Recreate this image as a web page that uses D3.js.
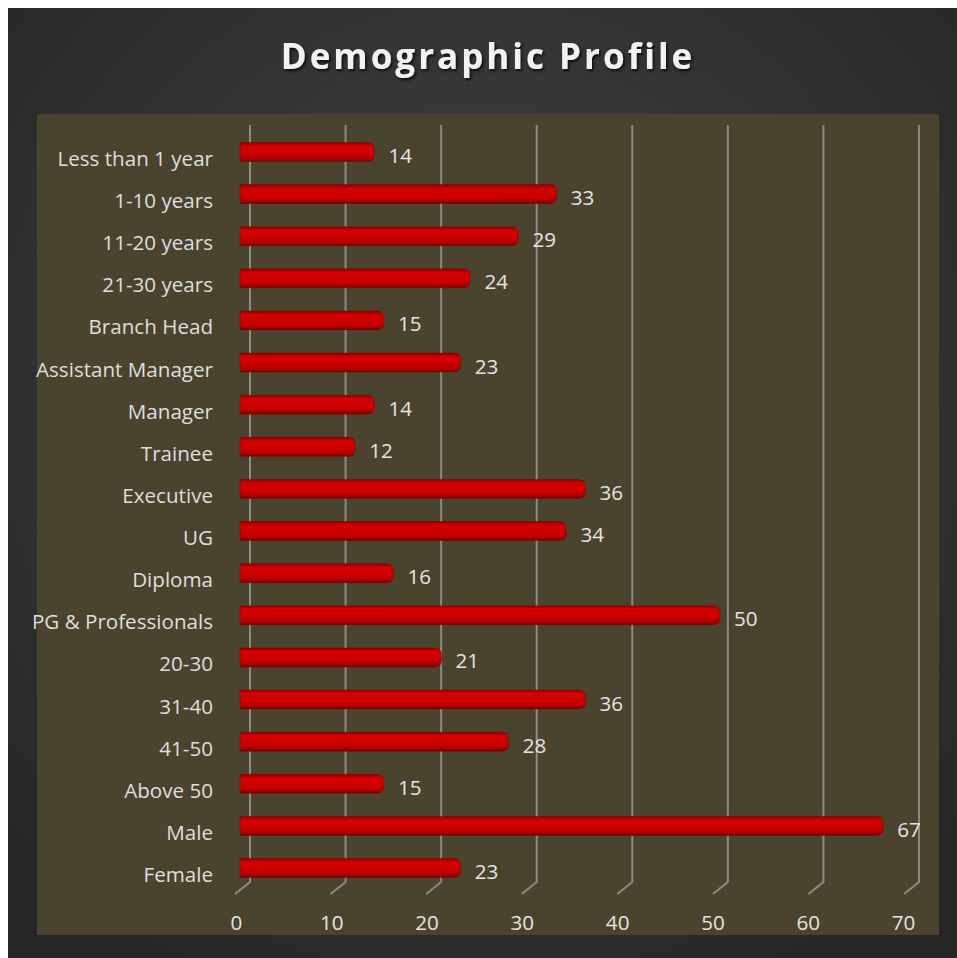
<!DOCTYPE html>
<html>
<head>
<meta charset="utf-8">
<script src="https://cdn.jsdelivr.net/npm/d3@7"></script>
<style>
  html, body { margin: 0; padding: 0; background: #ffffff; }
  svg { display: block; }
</style>
</head>
<body>
<script>
const categories = ["Less than 1 year","1-10 years","11-20 years","21-30 years","Branch Head","Assistant Manager","Manager","Trainee","Executive","UG","Diploma","PG & Professionals","20-30","31-40","41-50","Above 50","Male","Female"];
const values = [14,33,29,24,15,23,14,12,36,34,16,50,21,36,28,15,67,23];
const tickValues = [0,10,20,30,40,50,60,70];
const title = "Demographic Profile";

const W = 957, H = 958;
const svg = d3.select("body").append("svg").attr("width", W).attr("height", H);
const defs = svg.append("defs");

const bg = defs.append("radialGradient").attr("id","bgGrad").attr("cx","50%").attr("cy","40%").attr("r","70%");
bg.append("stop").attr("offset","0%").attr("stop-color","#454545");
bg.append("stop").attr("offset","100%").attr("stop-color","#262626");

const barGrad = defs.append("linearGradient").attr("id","barGrad").attr("x1",0).attr("y1",0).attr("x2",0).attr("y2",1);
barGrad.append("stop").attr("offset","0%").attr("stop-color","#900000");
barGrad.append("stop").attr("offset","20%").attr("stop-color","#d40000");
barGrad.append("stop").attr("offset","60%").attr("stop-color","#cc0000");
barGrad.append("stop").attr("offset","85%").attr("stop-color","#b00000");
barGrad.append("stop").attr("offset","100%").attr("stop-color","#780000");

const shadow = defs.append("filter").attr("id","tshadow").attr("x","-10%").attr("y","-30%").attr("width","120%").attr("height","160%");
shadow.append("feDropShadow").attr("dx",1.5).attr("dy",2).attr("stdDeviation",1.5).attr("flood-color","#000").attr("flood-opacity",0.8);

const soft = defs.append("filter").attr("id","soft").attr("x","-5%").attr("y","-30%").attr("width","110%").attr("height","160%");
soft.append("feGaussianBlur").attr("stdDeviation",0.6);

// background
svg.append("rect").attr("x",8).attr("y",8).attr("width",W-8).attr("height",H-8).attr("fill","url(#bgGrad)");

// title
svg.append("text").attr("x",488).attr("y",69).attr("text-anchor","middle")
  .attr("font-family","'Open Sans', sans-serif").attr("font-weight",700).attr("font-size",35)
  .attr("letter-spacing","3px").attr("fill","#f2f2f2").attr("filter","url(#tshadow)")
  .text(title);

// plot area
svg.append("rect").attr("x",37).attr("y",114).attr("width",902).attr("height",821).attr("fill","#4a442e");

// scales
const xGrid = d3.scaleLinear().domain([0,70]).range([250,919]);
const xBar = d3.scaleLinear().domain([0,70]).range([240,912]);
const xTick = d3.scaleLinear().domain([0,70]).range([236,903]);
const y = d3.scalePoint().domain(categories).range([152,868]);

// gridlines (3D wall + floor)
svg.append("g").selectAll("path").data(tickValues).join("path")
  .attr("d", d => `M${xGrid(d)},125 V882 L${xGrid(d)-15},894`)
  .attr("fill","none").attr("stroke","#8a8a86").attr("stroke-width",2).attr("stroke-linejoin","miter");

// bars
const bh = 19, r = 7;
svg.append("g").attr("filter","url(#soft)").selectAll("path").data(values).join("path")
  .attr("d", (d,i) => {
    const x0 = xBar(0), x1 = xBar(d), y0 = y(categories[i]) - bh/2, y1 = y0 + bh;
    return `M${x0},${y0} H${x1-r} Q${x1},${y0} ${x1},${y0+r} V${y1-r} Q${x1},${y1} ${x1-r},${y1} H${x0} Z`;
  })
  .attr("fill","url(#barGrad)").attr("stroke","#700000").attr("stroke-width",0.8).attr("stroke-opacity",0.5);

// category labels
svg.append("g").selectAll("text").data(categories).join("text")
  .attr("x",213).attr("y", d => y(d) + 14).attr("text-anchor","end")
  .attr("font-family","'Open Sans', sans-serif").attr("font-size",20.6).attr("fill","#dedede")
  .text(d => d);

// value labels
svg.append("g").selectAll("text").data(values).join("text")
  .attr("x", d => xBar(d) + 14).attr("y", (d,i) => y(categories[i]) + 11)
  .attr("font-family","'Open Sans', sans-serif").attr("font-size",20.6).attr("fill","#e4e4e4")
  .text(d => d);

// x axis tick labels
const axis = d3.axisBottom(xTick).tickValues(tickValues).tickSize(0).tickPadding(0);
const ax = svg.append("g").attr("transform","translate(0,915)").call(axis);
ax.select(".domain").remove();
ax.selectAll("text").attr("font-family","'Open Sans', sans-serif").attr("font-size",20.6).attr("fill","#e4e4e4").attr("dy","0.71em");
</script>
</body>
</html>
